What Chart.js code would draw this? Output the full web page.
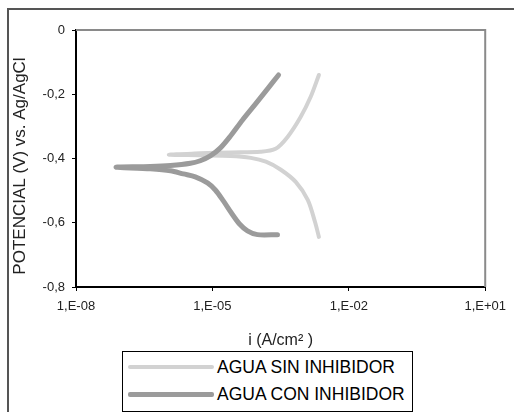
<!DOCTYPE html>
<html>
<head>
<meta charset="utf-8">
<script src="https://cdn.jsdelivr.net/npm/chart.js@4/dist/chart.umd.min.js"></script>
<style>
    html, body { margin: 0; padding: 0; background: #fff; overflow: hidden; }
    #wrap { position: relative; width: 514px; height: 412px; }
    #marco { position: absolute; left: 7px; top: 8px; width: 600px; height: 600px; border: 2px solid #555; box-sizing: border-box; }
    #grafico { position: absolute; left: 0; top: 0; }
    #leyenda { position: absolute; left: 122px; top: 351px; width: 291px; height: 61px; border: 1px solid #000; box-sizing: border-box; background: #fff; font-family: "Liberation Sans", Arial, sans-serif; font-size: 17.5px; color: #000; }
    #leyenda .fila { position: absolute; left: 0; height: 20px; line-height: 20px; white-space: nowrap; }
    #leyenda .muestra { position: absolute; left: 5px; width: 86px; border-radius: 2px; }
    #leyenda .texto { position: absolute; left: 94px; top: 0; }
</style>
</head>
<body>
<div id="wrap">
    <div id="marco"></div>
    <canvas id="grafico" width="514" height="412"></canvas>
    <div id="leyenda"></div>
</div>
<script>
const series = ["AGUA SIN INHIBIDOR", "AGUA CON INHIBIDOR"];

// agua sin inhibidor: rama catódica -> Ecorr -> rama anódica
const sinCorriente = [2.2e-3, 1.8e-3, 1.25e-3, 6.8e-4, 3.2e-4, 1.5e-4, 7e-5, 2.5e-5, 5.4e-6, 1.1e-6,
    5.4e-6, 2.5e-5, 1.15e-4, 2.45e-4, 4.5e-4, 8.7e-4, 1.45e-3, 2.2e-3];
const sinPotencial = [-0.644, -0.597, -0.529, -0.473, -0.435, -0.410, -0.398, -0.392, -0.390, -0.388,
    -0.384, -0.381, -0.379, -0.370, -0.333, -0.271, -0.208, -0.140];

// agua con inhibidor
const conCorriente = [2.7e-4, 9.8e-5, 5.9e-5, 3.9e-5, 2.6e-5, 1.74e-5, 1.16e-5, 7.8e-6, 4.2e-6,
    2.3e-6, 1.2e-6, 4.3e-7, 7.6e-8, 4.3e-7, 1.2e-6, 3.3e-6, 5.4e-6, 9e-6, 1.5e-5,
    2.5e-5, 4.6e-5, 8.9e-5, 1.7e-4, 2.85e-4];
const conPotencial = [-0.637, -0.637, -0.625, -0.603, -0.569, -0.532, -0.498, -0.476, -0.457,
    -0.448, -0.438, -0.432, -0.427, -0.425, -0.422, -0.415, -0.407, -0.392, -0.367,
    -0.330, -0.280, -0.230, -0.180, -0.140];

const xTicks = [1e-8, 1e-5, 1e-2, 1e1];
const yTicks = [-0.8, -0.6, -0.4, -0.2, 0];

const tituloX = "i (A/cm\u00B2 )";
const tituloY = "POTENCIAL (V) vs. Ag/AgCl";

document.addEventListener("DOMContentLoaded", function () {
    const fuente = "'Liberation Sans', Arial, sans-serif";
    const colores = ["#d2d2d2", "#9b9b9b"];
    const grosor = [4, 5];

    function puntos(xs, ys) {
        return xs.map((x, i) => ({ x: x, y: ys[i] }));
    }

    // borde gris arriba y a la derecha del área de trazado + título vertical
    const marcoPlot = {
        id: "marcoPlot",
        beforeDatasetsDraw(chart) {
            const { ctx, chartArea: a } = chart;
            ctx.save();
            ctx.strokeStyle = "#8a8a8a";
            ctx.lineWidth = 2;
            ctx.beginPath();
            ctx.moveTo(a.left, a.top);
            ctx.lineTo(a.right, a.top);
            ctx.lineTo(a.right, a.bottom);
            ctx.stroke();
            ctx.restore();
        },
        afterDraw(chart) {
            const ctx = chart.ctx;
            ctx.save();
            ctx.translate(20, 166);
            ctx.rotate(-Math.PI / 2);
            ctx.font = "17px " + fuente;
            ctx.fillStyle = "#222";
            ctx.textAlign = "center";
            ctx.textBaseline = "middle";
            ctx.fillText(tituloY, 0, 0);
            ctx.restore();
        }
    };

    const ctx = document.getElementById("grafico").getContext("2d");
    const chart = new Chart(ctx, {
        type: "scatter",
        data: {
            datasets: [{
                label: series[0],
                data: puntos(sinCorriente, sinPotencial),
                borderColor: colores[0],
                borderWidth: grosor[0],
                order: 1
            }, {
                label: series[1],
                data: puntos(conCorriente, conPotencial),
                borderColor: colores[1],
                borderWidth: grosor[1],
                order: 0
            }]
        },
        options: {
            responsive: false,
            animation: false,
            layout: { padding: { left: 0, top: 30, right: 28.4, bottom: 0 } },
            elements: {
                point: { radius: 0, hoverRadius: 0 },
                line: { tension: 0.3, borderCapStyle: "round", borderJoinStyle: "round" }
            },
            datasets: { scatter: { showLine: true } },
            plugins: { legend: { display: false }, tooltip: { enabled: false } },
            scales: {
                x: {
                    type: "logarithmic",
                    min: 1e-8,
                    max: 1e1,
                    afterBuildTicks: s => { s.ticks = xTicks.map(v => ({ value: v })); },
                    afterFit: s => { s.height = 125; },
                    grid: { drawOnChartArea: false, tickLength: 4, color: "#000" },
                    border: { color: "#000", width: 2 },
                    ticks: {
                        padding: 8,
                        color: "#222",
                        font: { family: fuente, size: 13 },
                        maxRotation: 0,
                        callback: function (v) {
                            const e = Math.round(Math.log10(v));
                            return "1,E" + (e < 0 ? "-" : "+") + String(Math.abs(e)).padStart(2, "0");
                        }
                    },
                    title: {
                        display: true,
                        text: tituloX,
                        color: "#222",
                        font: { family: fuente, size: 16 },
                        padding: { top: 0, bottom: 62 }
                    }
                },
                y: {
                    min: -0.8,
                    max: 0,
                    afterBuildTicks: s => { s.ticks = yTicks.map(v => ({ value: v })); },
                    afterFit: s => { s.width = 76; },
                    grid: { drawOnChartArea: false, tickLength: 4, color: "#000" },
                    border: { color: "#000", width: 2 },
                    ticks: {
                        padding: 7,
                        color: "#222",
                        font: { family: fuente, size: 13 },
                        callback: v => (v === 0 ? "0" : v.toFixed(1).replace(".", ","))
                    }
                }
            }
        },
        plugins: [marcoPlot]
    });

    // leyenda con recuadro, como en la hoja de cálculo
    const leyenda = document.getElementById("leyenda");
    chart.data.datasets.forEach((ds, i) => {
        const fila = document.createElement("div");
        fila.className = "fila";
        fila.style.top = (5 + i * 27) + "px";
        fila.innerHTML = '<div class="muestra"></div><span class="texto">' + ds.label + "</span>";
        const m = fila.querySelector(".muestra");
        m.style.height = ds.borderWidth + "px";
        m.style.top = (10 - ds.borderWidth / 2) + "px";
        m.style.background = ds.borderColor;
        leyenda.appendChild(fila);
    });
});
</script>
</body>
</html>
